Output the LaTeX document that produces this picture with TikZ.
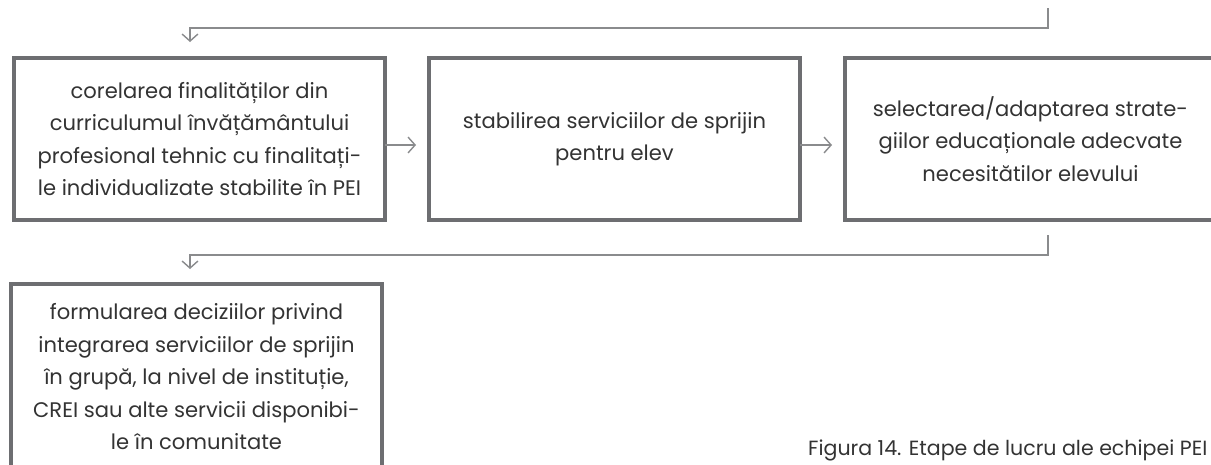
\documentclass[tikz,border=0pt]{standalone}
\usepackage{fontspec}
\setmainfont{Poppins}
\usetikzlibrary{arrows.meta}
\definecolor{boxgray}{HTML}{6D6E71}
\definecolor{linegray}{HTML}{8A8B8D}
\definecolor{textgray}{HTML}{333333}
\tikzset{
  stage/.style={draw=boxgray, line width=2.3pt, align=center, text=textgray, inner sep=0pt,
    font=\fontsize{12}{18.5}\selectfont, minimum width=7.42cm},
  flow/.style={draw=linegray, line width=0.8pt, -{Straight Barb[length=4pt,width=9pt]}}
}
\begin{document}
\begin{tikzpicture}[x=0.02cm,y=-0.02cm]
    \useasboundingbox (0,0) rectangle (1211,464);
    \clip (0,0) rectangle (1211,464);
    \node [stage, minimum height=3.24cm] (corelare) at (199.5,139) {corelarea finalităților din\\curriculumul învățământului\\profesional tehnic cu finalitați-\\le individualizate stabilite în PEI};
    \node [stage, minimum height=3.24cm] (servicii) at (614.5,139) {stabilirea serviciilor de sprijin\\pentru elev};
    \node [stage, minimum height=3.24cm] (strategii) at (1030.5,139) {selectarea/adaptarea strate-\\giilor educaționale adecvate\\necesitătilor elevului};
    \node [stage, minimum height=3.72cm] (decizii) at (196.5,377) {formularea deciziilor privind\\integrarea serviciilor de sprijin\\în grupă, la nivel de instituție,\\CREI sau alte servicii disponibi-\\le în comunitate};
    \node [text=textgray, font=\fontsize{11.7}{14}\selectfont, anchor=base west] (caption) at (802,455) {Figura 14. Etape de lucru ale echipei PEI};
    \coordinate (start) at (1048,8);
    \draw [flow] (start) -- ++(0,20) -| ([xshift=-0.19cm,yshift=0.28cm]corelare.north);
    \draw [flow, shorten <=-1pt] ([yshift=-0.12cm]corelare.east) -- ([xshift=-0.22cm,yshift=-0.12cm]servicii.west);
    \draw [flow, shorten <=-1pt] ([yshift=-0.12cm]servicii.east) -- ([xshift=-0.22cm,yshift=-0.12cm]strategii.west);
    \draw [flow] ([xshift=0.35cm,yshift=-0.26cm]strategii.south) -- ++(0,20) -| ([xshift=-0.13cm,yshift=0.26cm]decizii.north);
\end{tikzpicture}
\end{document}
